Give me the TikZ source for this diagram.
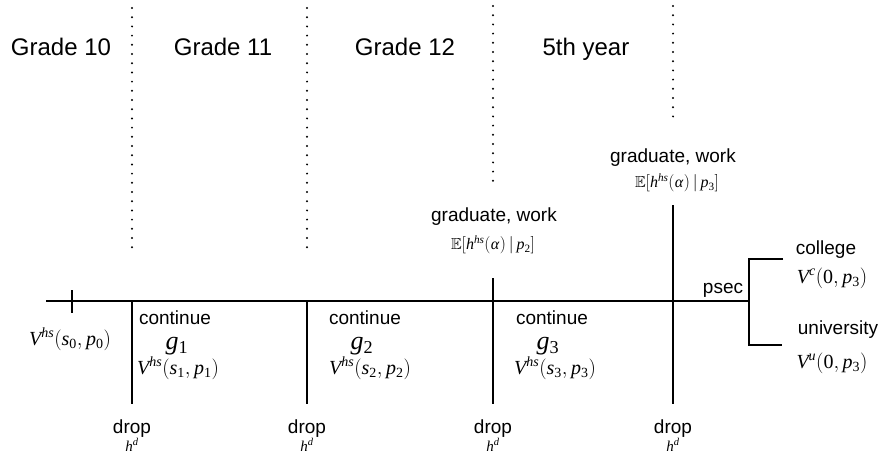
\documentclass[tikz,border=0pt]{standalone}
\usepackage{amssymb}
\usepackage{mathspec}
\setmainfont{Liberation Sans}
\setmathsfont(Digits,Latin,Greek){Liberation Serif}
\begin{document}
\begin{tikzpicture}[x=1pt,y=-1pt,
  timeline/.style={line width=1.6pt},
  branch/.style={line width=1.2pt},
  dotline/.style={line width=2.2pt, dash pattern=on 0pt off 9.2pt, line cap=round},
  grade/.style={font=\fontsize{24}{27}\selectfont, inner sep=0pt, anchor=base},
  lab/.style={font=\fontsize{19}{22}\selectfont, inner sep=0pt},
  mth/.style={font=\fontsize{20}{22}\selectfont, inner sep=0pt},
  gm/.style={font=\fontsize{26}{28}\selectfont, inner sep=0pt},
  ex/.style={font=\fontsize{16}{18}\selectfont, inner sep=0pt},
  hd/.style={font=\fontsize{15}{17}\selectfont, inner sep=0pt, anchor=base}]
\useasboundingbox (0,0) rectangle (884,458);
% coordinates
\coordinate (L) at (46,301);
\coordinate (B) at (749,301);
\coordinate (t1) at (72,290); \coordinate (t2) at (72,313);
\coordinate (a1) at (132,301); \coordinate (a1b) at (132,404);
\coordinate (a2) at (307,301); \coordinate (a2b) at (307,404);
\coordinate (a3) at (493,278); \coordinate (a3b) at (493,404);
\coordinate (a4) at (673,205); \coordinate (a4b) at (673,404);
\coordinate (bt) at (749,259); \coordinate (bb) at (749,345);
\coordinate (ct) at (783,259); \coordinate (cb) at (782,345);
\coordinate (d1t) at (132,8); \coordinate (d1b) at (132,253);
\coordinate (d2t) at (307,8); \coordinate (d2b) at (307,252);
\coordinate (d3t) at (493,6); \coordinate (d3b) at (493,187);
\coordinate (d4t) at (673,6); \coordinate (d4b) at (673,117);
% lines
\draw[timeline] (L) -- (B);
\draw[branch] (t1) -- (t2);
\draw[branch] (a1) -- (a1b);
\draw[branch] (a2) -- (a2b);
\draw[branch] (a3) -- (a3b);
\draw[branch] (a4) -- (a4b);
\draw[branch] (ct) -- (bt) -- (bb) -- (cb);
\draw[dotline] (d1t) -- (d1b);
\draw[dotline] (d2t) -- (d2b);
\draw[dotline] (d3t) -- (d3b);
\draw[dotline] (d4t) -- (d4b);
% grade labels
\node[grade] (g10) at (61,55) {Grade 10};
\node[grade] (g11) at (223,55) {Grade 11};
\node[grade] (g12) at (405,55) {Grade 12};
\node[grade] (g5) at (586,55) {5th year};
% values
\node[mth] (v0) at (70,339) {$V^{hs}(s_0,p_0)$};
\node[lab] (c1) at (175,318) {continue};
\node[gm] (gg1) at (177,346) {$g_1$};
\node[mth] (v1) at (178,368) {$V^{hs}(s_1,p_1)$};
\node[lab] (c2) at (365,318) {continue};
\node[gm] (gg2) at (362,346) {$g_2$};
\node[mth] (v2) at (370,368) {$V^{hs}(s_2,p_2)$};
\node[lab] (c3) at (552,318) {continue};
\node[gm] (gg3) at (548,346) {$g_3$};
\node[mth] (v3) at (555,368) {$V^{hs}(s_3,p_3)$};
% drops
\node[lab, anchor=base] (dr1) at (132,433) {drop};
\node[hd] (h1) at (132,451) {$h^d$};
\node[lab, anchor=base] (dr2) at (307,433) {drop};
\node[hd] (h2) at (307,451) {$h^d$};
\node[lab, anchor=base] (dr3) at (493,433) {drop};
\node[hd] (h3) at (493,451) {$h^d$};
\node[lab, anchor=base] (dr4) at (673,433) {drop};
\node[hd] (h4) at (673,451) {$h^d$};
% graduate
\node[lab] (gw1) at (494,217) {graduate, work};
\node[ex] (e1) at (493,245) {$\mathbb{E}[h^{hs}(\alpha)\,|\,p_2]$};
\node[lab] (gw2) at (673,158) {graduate, work};
\node[ex] (e2) at (677,183) {$\mathbb{E}[h^{hs}(\alpha)\,|\,p_3]$};
% post-secondary
\node[lab] (ps) at (723,290) {psec};
\node[lab] (col) at (826,250) {college};
\node[mth] (vc) at (832,278) {$V^{c}(0,p_3)$};
\node[lab] (uni) at (838,330) {university};
\node[mth] (vu) at (832,363) {$V^{u}(0,p_3)$};
\end{tikzpicture}
\end{document}
